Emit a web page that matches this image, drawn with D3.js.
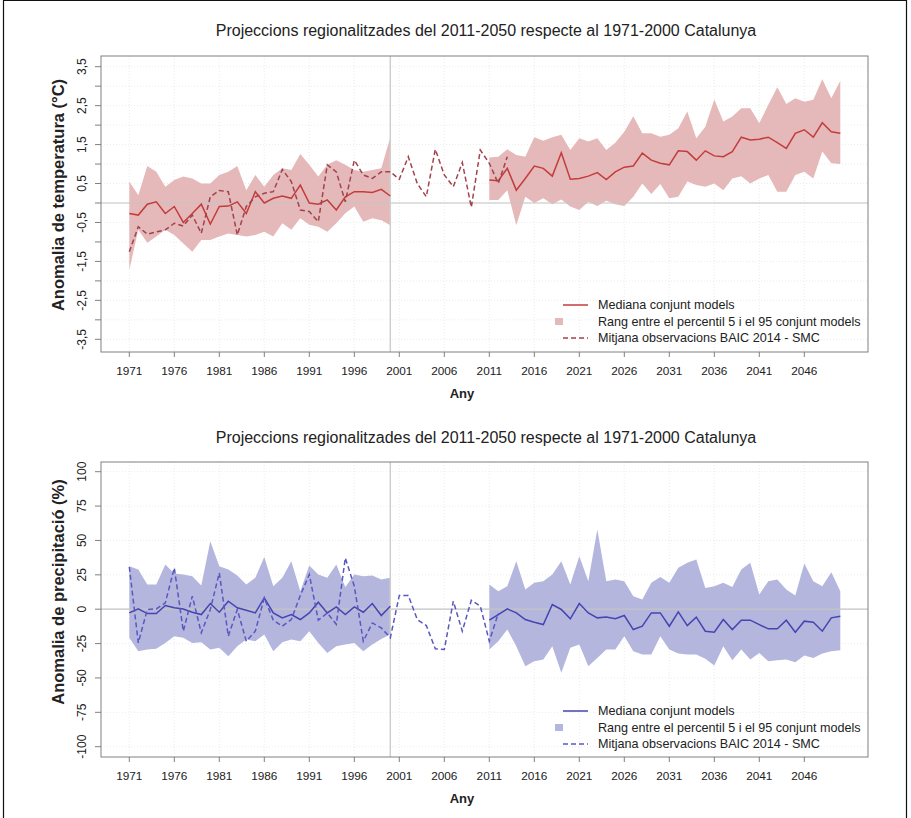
<!DOCTYPE html>
<html><head><meta charset="utf-8">
<script src="https://cdn.jsdelivr.net/npm/d3@7"></script>
<style>body{margin:0;background:#fff} svg{display:block} text{font-family:"Liberation Sans",Arial,Helvetica,sans-serif;fill:#222}</style>
</head><body><svg id="c" width="911" height="818"></svg>
<script>
const chartTitle = "Projeccions regionalitzades del 2011-2050 respecte al 1971-2000 Catalunya";
const xTickYears = [1971,1976,1981,1986,1991,1996,2001,2006,2011,2016,2021,2026,2031,2036,2041,2046];
const histStart = 1971, futStart = 2011, obsStart = 1971;
const legendLabels = ["Mediana conjunt models","Rang entre el percentil 5 i el 95 conjunt models","Mitjana observacions BAIC 2014 - SMC"];

// Temperature (°C)
const tempTicks = [-3.5,-3,-2.5,-2,-1.5,-1,-0.5,0,0.5,1,1.5,2,2.5,3,3.5];
const tempTickLabels = ["-3,5","-2,5","-1,5","-0,5","0,5","1,5","2,5","3,5"];
const tempLabelValues = [-3.5,-2.5,-1.5,-0.5,0.5,1.5,2.5,3.5];
const tempMedHist = [-0.27,-0.31,-0.03,0.03,-0.27,-0.09,-0.5,-0.27,-0.03,-0.54,-0.09,-0.08,0.03,-0.27,0.29,0.0,0.12,0.18,0.12,0.46,0.0,-0.03,0.08,-0.18,0.16,0.29,0.29,0.27,0.35,0.18];
const tempHiHist = [0.55,0.2,0.95,0.8,0.42,0.59,0.68,0.63,0.5,0.5,0.72,0.8,0.95,0.33,0.72,0.42,0.72,0.89,0.85,1.26,0.98,0.68,0.98,1.1,0.98,0.85,0.8,0.85,0.89,1.69];
const tempLoHist = [-1.72,-0.69,-1.02,-0.86,-0.69,-0.82,-1.04,-1.25,-0.95,-0.95,-0.86,-0.78,-0.82,-0.86,-0.82,-0.74,-0.86,-0.52,-0.69,-0.39,-0.56,-0.61,-0.74,-0.52,-0.26,-0.09,-0.48,-0.39,-0.44,-0.57];
const tempMedFut = [0.59,0.57,0.89,0.33,0.63,0.95,0.89,0.69,1.29,0.61,0.63,0.69,0.78,0.6,0.8,0.92,0.95,1.28,1.1,1.02,0.98,1.34,1.32,1.1,1.34,1.21,1.19,1.32,1.69,1.62,1.64,1.69,1.55,1.4,1.79,1.88,1.69,2.06,1.83,1.79];
const tempHiFut = [1.17,1.19,1.38,1.23,1.19,1.69,1.6,1.69,1.75,1.36,1.66,1.58,1.66,1.36,1.55,1.83,2.23,1.79,1.79,1.7,1.75,1.92,2.35,1.66,1.96,2.66,2.09,2.22,2.43,2.43,2.05,2.52,2.97,2.54,2.69,2.6,2.65,3.18,2.69,3.14];
const tempLoFut = [0.08,0.08,0.33,-0.57,0.16,0.0,0.12,-0.03,0.09,-0.09,-0.18,0.03,-0.08,0.06,-0.03,-0.08,0.16,0.5,0.23,0.49,0.12,0.16,0.55,0.46,0.42,0.5,0.33,0.63,0.69,0.5,0.63,0.72,0.29,0.29,0.72,0.8,0.63,1.32,1.02,1.0];
const tempObs = [-1.25,-0.61,-0.8,-0.74,-0.69,-0.52,-0.59,-0.31,-0.78,0.16,0.32,0.29,-0.82,-0.09,0.16,0.25,0.29,0.86,0.55,-0.18,-0.22,-0.48,0.98,0.8,0.03,1.1,0.72,0.63,0.8,0.8,0.61,1.19,0.5,0.16,1.38,0.72,0.42,1.04,-0.11,1.36,1.02,0.5,1.19];

// Precipitation (%)
const precTicks = [-100,-75,-50,-25,0,25,50,75,100];
const precTickLabels = ["-100","-75","-50","-25","0","25","50","75","100"];
const precMedHist = [-2.7,0.2,-3.2,-3.2,2.7,1,0.2,-2.2,-3.9,4.1,-2.2,5.8,1,-0.7,-2.7,8.2,-2.7,-6.3,-3.9,-7.5,-2.7,5.1,-2.7,1.7,-3.9,1.7,-2.2,4.1,-4.6,2.2];
const precHiHist = [31.3,28.8,17.9,17.9,32.5,25.9,25.2,24,17.2,49.5,31.3,28.8,24.5,17.9,22.8,38,16.7,22.8,34.9,13.1,31.8,25.2,22.8,32.5,16.2,25.2,24,24.5,21.6,22.8];
const precLoHist = [-20.8,-30.5,-29.3,-28.8,-24.5,-19.6,-20.8,-24.5,-24,-29.3,-28.1,-34.2,-26.9,-22,-23.3,-18.4,-30.5,-24,-22,-23.3,-16,-24.5,-31.8,-26.9,-25.7,-24.5,-30.5,-25.7,-21.6,-18.4];
const precMedFut = [-8,-3.9,0.2,-2.7,-7.5,-9.5,-11.2,3.4,-0.2,-7,4.1,-2.7,-6.3,-5.6,-7,-4.6,-14.8,-12.4,-2.7,-2.7,-12.4,-1.9,-11.9,-5.8,-16,-16.7,-7.5,-14.8,-8,-8,-11.2,-14.3,-14.3,-8,-16.7,-8.7,-9.5,-16,-6.3,-5.1];
const precHiFut = [17.9,13.1,16.7,34.9,14.3,19.2,20.4,25.2,34.9,17.9,38.5,20.4,57.9,20.4,21.6,20.4,9.5,7,19.2,23.5,19.2,30.1,33.7,36.1,15.5,16.7,19.2,16.2,28.8,33.7,10.7,20.4,21.6,14.3,9.9,33.2,20.4,16.7,26.9,13.1];
const precLoFut = [-29.3,-23.3,-14.8,-27,-41.5,-37.8,-36.6,-26.9,-46.3,-28.1,-25.7,-41.5,-35.4,-29.3,-29.3,-19.6,-30.5,-33,-33,-19.6,-29.3,-32.2,-33,-33,-36.1,-41,-26.9,-37.1,-29.3,-36.6,-31.8,-37.8,-37.1,-36.6,-38.5,-33.7,-35.4,-32.2,-30.5,-29.8];
const precObs = [30.8,-24.5,-0.2,0.2,4.6,30.1,-16,9.5,-17.2,-0.2,26.4,-19.6,-0.2,-23.3,-16,8.2,-8,-12.4,-7.5,10,25.2,-8,-2.7,-11,37.3,16.7,-23.3,-10,-13.6,-20.8,10,10,-7.5,-11.9,-28.8,-29.3,5.8,-16,6.5,2.2,-23.3,-3];

const svg = d3.select("#c");
svg.append("rect").attr("x",0).attr("y",0).attr("width",911).attr("height",818).attr("fill","#fff");
// outer frame
svg.append("path").attr("d","M3.5,830V0.5H906.5V830").attr("fill","none").attr("stroke","#111").attr("stroke-width",1.2);

const x = d3.scaleLinear().domain([1971,2050]).range([129.3,840.3]);
const boxL = 101, boxR = 868;

function series(start, vals){ return vals.map((v,i)=>({year:start+i, v})); }
function band(start, lo, hi){ return lo.map((v,i)=>({year:start+i, lo:v, hi:hi[i]})); }

function panel(o){
  const y = d3.scaleLinear().domain(o.yDomain).range(o.yRange);
  const g = svg.append("g");
  // title
  g.append("text").attr("x",486).attr("y",o.titleY).attr("text-anchor","middle")
    .style("font-size","16px").text(chartTitle);
  // faint grid
  const grid = g.append("g").attr("stroke","#ececec").attr("stroke-width",1).attr("stroke-dasharray","1,2");
  grid.selectAll("line.v").data(xTickYears).join("line")
    .attr("x1",d=>x(d)).attr("x2",d=>x(d)).attr("y1",o.top).attr("y2",o.bottom);
  grid.selectAll("line.h").data(o.gridVals).join("line")
    .attr("x1",boxL).attr("x2",boxR).attr("y1",d=>y(d)).attr("y2",d=>y(d));
  // bands
  const area = d3.area().x(d=>x(d.year)).y0(d=>y(d.lo)).y1(d=>y(d.hi));
  g.append("path").datum(band(histStart,o.loH,o.hiH)).attr("d",area).attr("fill",o.fill);
  g.append("path").datum(band(futStart,o.loF,o.hiF)).attr("d",area).attr("fill",o.fill);
  // reference lines
  g.append("line").attr("x1",boxL).attr("x2",boxR).attr("y1",y(0)).attr("y2",y(0))
    .attr("stroke","#c4c4c4").attr("stroke-width",1.2);
  g.append("line").attr("x1",x(2000)).attr("x2",x(2000)).attr("y1",o.top).attr("y2",o.bottom)
    .attr("stroke","#cfcfcf").attr("stroke-width",1.5);
  // lines
  const line = d3.line().x(d=>x(d.year)).y(d=>y(d.v));
  g.append("path").datum(series(histStart,o.medH)).attr("d",line).attr("fill","none").attr("stroke",o.med).attr("stroke-width",1.5);
  g.append("path").datum(series(futStart,o.medF)).attr("d",line).attr("fill","none").attr("stroke",o.med).attr("stroke-width",1.5);
  g.append("path").datum(series(obsStart,o.obs)).attr("d",line).attr("fill","none").attr("stroke",o.dash).attr("stroke-width",1.5).attr("stroke-dasharray","5,3");
  // box
  g.append("rect").attr("x",boxL).attr("y",o.top).attr("width",boxR-boxL).attr("height",o.bottom-o.top)
    .attr("fill","none").attr("stroke","#808080").attr("stroke-width",1);
  // x axis
  const xa = g.append("g");
  xa.selectAll("line").data(xTickYears).join("line")
    .attr("x1",d=>x(d)).attr("x2",d=>x(d)).attr("y1",o.bottom).attr("y2",o.bottom+5).attr("stroke","#808080");
  xa.selectAll("text").data(xTickYears).join("text")
    .attr("x",d=>x(d)).attr("y",o.bottom+23).attr("text-anchor","middle").style("font-size","11.8px").text(d=>d);
  g.append("text").attr("x",462).attr("y",o.bottom+46).attr("text-anchor","middle")
    .style("font-size","13px").style("font-weight","bold").text("Any");
  // y axis
  const ya = g.append("g");
  ya.selectAll("line").data(o.ticks).join("line")
    .attr("x1",boxL-6).attr("x2",boxL).attr("y1",d=>y(d)).attr("y2",d=>y(d)).attr("stroke","#808080");
  ya.selectAll("text").data(o.labelVals).join("text")
    .attr("transform",d=>`translate(86,${y(d)}) rotate(-90)`).attr("text-anchor","middle")
    .style("font-size","12px").text((d,i)=>o.labels[i]);
  g.append("text").attr("transform",`translate(64,${o.ylabY}) rotate(-90)`).attr("text-anchor","middle")
    .style("font-size","16.5px").style("font-weight","bold").text(o.ylab);
  // legend
  const lg = g.append("g");
  const rows = o.legendY;
  lg.append("line").attr("x1",563).attr("x2",588).attr("y1",rows[0]).attr("y2",rows[0]).attr("stroke",o.med).attr("stroke-width",1.5);
  lg.append("rect").attr("x",555).attr("y",rows[1]-3.5).attr("width",8).attr("height",7).attr("fill",o.fill);
  lg.append("line").attr("x1",563).attr("x2",588).attr("y1",rows[2]).attr("y2",rows[2]).attr("stroke",o.dash).attr("stroke-width",1.5).attr("stroke-dasharray","5,3");
  lg.selectAll("text").data(legendLabels).join("text")
    .attr("x",598).attr("y",(d,i)=>rows[i]+4.4).style("font-size","12.6px").text(d=>d);
}

panel({
  titleY:36, top:56, bottom:352, yDomain:[-3.5,3.5], yRange:[339.3,66.7],
  gridVals: tempTicks, ticks: tempTicks, labelVals: tempLabelValues, labels: tempTickLabels,
  ylab:"Anomalia de temperatura (°C)", ylabY:195,
  medH:tempMedHist, hiH:tempHiHist, loH:tempLoHist, medF:tempMedFut, hiF:tempHiFut, loF:tempLoFut, obs:tempObs,
  fill:"#e5b9b9", med:"#c43c3c", dash:"#a0434d", legendY:[305,321.5,338]
});
panel({
  titleY:443, top:462, bottom:757, yDomain:[-100,100], yRange:[746.7,471.7],
  gridVals: precTicks, ticks: precTicks, labelVals: precTicks, labels: precTickLabels,
  ylab:"Anomalia de precipitació (%)", ylabY:592,
  medH:precMedHist, hiH:precHiHist, loH:precLoHist, medF:precMedFut, hiF:precHiFut, loF:precLoFut, obs:precObs,
  fill:"#b4b6de", med:"#4545b0", dash:"#5858c0", legendY:[711,727.5,744]
});
</script></body></html>
